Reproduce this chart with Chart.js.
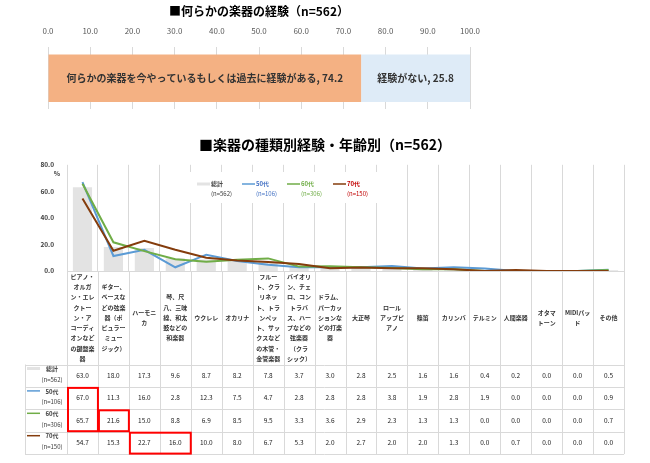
<!DOCTYPE html>
<html lang="ja">
<head>
<meta charset="utf-8">
<script src="https://cdn.jsdelivr.net/npm/chart.js@4.4.1/dist/chart.umd.min.js"></script>
<style>
  html, body { margin: 0; padding: 0; background: #fff; }
  body { width: 650px; height: 463px; position: relative; overflow: hidden; }
  #topWrap { position: absolute; left: 0; top: 0; width: 650px; height: 112px; }
  #ageWrap { position: absolute; left: 0; top: 118px; width: 650px; height: 345px; }
</style>
</head>
<body>
<div id="topWrap"><canvas id="experienceChart"></canvas></div>
<div id="ageWrap"><canvas id="ageChart"></canvas></div>
<script>
// ---- data ----
const experienceLabels = ['何らかの楽器を今やっているもしくは過去に経験がある', '経験がない'];
const experienceValues = [74.2, 25.8];

const categories = [
  ['ピアノ・', 'オルガ', 'ン・エレ', 'クトー', 'ン・ア', 'コーディ', 'オンなど', 'の鍵盤楽', '器'],
  ['ギター、', 'ベースな', 'どの弦楽', '器（ポ', 'ピュラー', 'ミュー', 'ジック）'],
  ['ハーモニ', 'カ'],
  ['琴、尺', '八、三味', '線、和太', '鼓などの', '和楽器'],
  ['ウクレレ'],
  ['オカリナ'],
  ['フルー', 'ト、クラ', 'リネッ', 'ト、トラ', 'ンペッ', 'ト、サッ', 'クスなど', 'の木管・', '金管楽器'],
  ['バイオリ', 'ン、チェ', 'ロ、コン', 'トラバ', 'ス、ハー', 'プなどの', '弦楽器', '（クラ', 'シック）'],
  ['ドラム、', 'パーカッ', 'ションな', 'どの打楽', '器'],
  ['大正琴'],
  ['ロール', 'アップピ', 'アノ'],
  ['篠笛'],
  ['カリンバ'],
  ['テルミン'],
  ['人間楽器'],
  ['オタマ', 'トーン'],
  ['MIDIパッ', 'ド'],
  ['その他']
];

const seriesNames = ['総計', '50代', '60代', '70代'];
const seriesCounts = ['(n=562)', '(n=106)', '(n=306)', '(n=150)'];
const total = [63.0, 18.0, 17.3, 9.6, 8.7, 8.2, 7.8, 3.7, 3.0, 2.8, 2.5, 1.6, 1.6, 0.4, 0.2, 0.0, 0.0, 0.5];
const age50 = [67.0, 11.3, 16.0, 2.8, 12.3, 7.5, 4.7, 2.8, 2.8, 2.8, 3.8, 1.9, 2.8, 1.9, 0.0, 0.0, 0.0, 0.9];
const age60 = [65.7, 21.6, 15.0, 8.8, 6.9, 8.5, 9.5, 3.3, 3.6, 2.9, 2.3, 1.3, 1.3, 0.0, 0.0, 0.0, 0.0, 0.7];
const age70 = [54.7, 15.3, 22.7, 16.0, 10.0, 8.0, 6.7, 5.3, 2.0, 2.7, 2.0, 2.0, 1.3, 0.0, 0.7, 0.0, 0.0, 0.0];
const yTicks = [0, 20, 40, 60, 80];

// highlighted cells: [first column, last column, first row, last row]
const highlights = [[0, 0, 1, 2], [1, 1, 2, 2], [2, 3, 3, 3]];

const JP = '"Noto Sans CJK JP", "Noto Sans", sans-serif';
const GRID = '#d9d9d9';

// ---- top chart: stacked 100% bar ----
const segmentLabels = {
  id: 'segmentLabels',
  afterDatasetsDraw(chart) {
    const ctx = chart.ctx;
    ctx.save();
    ctx.font = 'bold 10px ' + JP;
    ctx.fillStyle = '#333';
    ctx.textAlign = 'center';
    ctx.textBaseline = 'middle';
    chart.data.datasets.forEach((ds, i) => {
      const bar = chart.getDatasetMeta(i).data[0];
      ctx.fillText(ds.label + ', ' + ds.data[0].toFixed(1), (bar.x + bar.base) / 2, bar.y);
    });
    ctx.restore();
  }
};

new Chart(document.getElementById('experienceChart'), {
  type: 'bar',
  data: {
    labels: [''],
    datasets: experienceLabels.map((label, i) => ({
      label: label,
      data: [experienceValues[i]],
      backgroundColor: ['#f4b183', '#deebf7'][i],
      barPercentage: 0.77,
      categoryPercentage: 1
    }))
  },
  options: {
    indexAxis: 'y',
    responsive: true,
    maintainAspectRatio: false,
    animation: false,
    events: [],
    layout: { padding: { left: 48, right: 180, bottom: 3 } },
    scales: {
      x: {
        position: 'top',
        stacked: true,
        min: 0,
        max: 100,
        afterFit: s => { s.height = 29; },
        ticks: {
          stepSize: 10,
          padding: 12,
          color: '#595959',
          font: { family: JP, size: 8 },
          callback: v => v.toFixed(1)
        },
        grid: { color: GRID, drawTicks: false },
        border: { display: false }
      },
      y: { stacked: true, display: false }
    },
    plugins: {
      legend: { display: false },
      tooltip: { enabled: false },
      title: {
        display: true,
        text: '■何らかの楽器の経験（n=562）',
        color: '#000',
        font: { family: JP, size: 12, weight: 'bold' },
        padding: { top: 4, bottom: 0 }
      }
    }
  },
  plugins: [segmentLabels]
});

// ---- bottom chart: bars + lines with data table ----
const lineColors = ['#e3e3e3', '#5b9bd5', '#70ad47', '#843c0c'];
const textColors = ['#404040', '#4472c4', '#70ad47', '#c00000'];
const seriesData = [total, age50, age60, age70];

const tableLayer = {
  id: 'tableLayer',
  afterDraw(chart) {
    const ctx = chart.ctx;
    const x = chart.scales.x;
    const area = chart.chartArea;
    const step = x.getPixelForValue(1) - x.getPixelForValue(0);
    const edge = i => x.getPixelForValue(i) - step / 2;
    const labelMid = area.bottom + 46.5;
    const rowTop = r => area.bottom + 93.5 + r * 22.4;
    const tableLeft = 25;
    const n = categories.length;

    ctx.save();
    // "%" under the top tick
    ctx.font = 'bold 6.5px ' + JP;
    ctx.fillStyle = '#404040';
    ctx.textAlign = 'center';
    ctx.textBaseline = 'middle';
    ctx.fillText('%', 57, area.top + 9);

    // grid lines continuing through label area and table
    ctx.strokeStyle = GRID;
    ctx.lineWidth = 1;
    ctx.beginPath();
    for (let i = 0; i <= n; i++) {
      const px = Math.round(edge(i)) + 0.5;
      ctx.moveTo(px, area.bottom);
      ctx.lineTo(px, rowTop(4));
    }
    ctx.moveTo(tableLeft + 0.5, rowTop(0));
    ctx.lineTo(tableLeft + 0.5, rowTop(4));
    for (let r = 0; r <= 4; r++) {
      const py = Math.round(rowTop(r)) + 0.5;
      ctx.moveTo(tableLeft, py);
      ctx.lineTo(edge(n), py);
    }
    ctx.stroke();

    // category labels
    ctx.font = 'bold 6px ' + JP;
    ctx.fillStyle = '#333';
    categories.forEach((lines, i) => {
      const cx = x.getPixelForValue(i);
      const lh = 10.25;
      const y0 = labelMid - (lines.length - 1) * lh / 2;
      lines.forEach((t, k) => ctx.fillText(t, cx, y0 + k * lh));
    });

    // row headers and values
    seriesData.forEach((vals, r) => {
      const top = rowTop(r);
      ctx.strokeStyle = lineColors[r];
      ctx.lineWidth = r === 0 ? 3 : 1.5;
      ctx.beginPath();
      ctx.moveTo(27, top + 4);
      ctx.lineTo(40, top + 4);
      ctx.stroke();
      ctx.fillStyle = '#404040';
      ctx.font = 'bold 6px ' + JP;
      ctx.fillText(seriesNames[r], 52, top + 4.5);
      ctx.font = '6px ' + JP;
      ctx.fillText(seriesCounts[r], 52, top + 15);
      ctx.font = '6.5px ' + JP;
      ctx.fillStyle = '#222';
      vals.forEach((v, i) => ctx.fillText(v.toFixed(1), x.getPixelForValue(i), top + 11));
    });

    // red highlight boxes
    ctx.strokeStyle = '#ff0000';
    ctx.lineWidth = 2;
    highlights.forEach(([c0, c1, r0, r1]) => {
      ctx.strokeRect(edge(c0) + 1, rowTop(r0) + 1, edge(c1 + 1) - edge(c0) - 1, rowTop(r1 + 1) - rowTop(r0) - 1.5);
    });

    // legend
    const lx = [197, 242, 287, 333];
    const ly = 184 - 118;
    ctx.fillStyle = '#fff';
    ctx.fillRect(190, ly - 12, 188, 31);
    seriesData.forEach((_, r) => {
      ctx.strokeStyle = lineColors[r];
      ctx.lineWidth = r === 0 ? 3 : 1.5;
      ctx.beginPath();
      ctx.moveTo(lx[r], ly);
      ctx.lineTo(lx[r] + 13, ly);
      ctx.stroke();
      ctx.fillStyle = textColors[r];
      ctx.textAlign = 'left';
      ctx.font = 'bold 6px ' + JP;
      ctx.fillText(seriesNames[r], lx[r] + 14, ly);
      ctx.font = '6px ' + JP;
      ctx.fillText(seriesCounts[r], lx[r] + 14, ly + 10);
    });
    ctx.restore();
  }
};

new Chart(document.getElementById('ageChart'), {
  data: {
    labels: categories.map(c => c.join('')),
    datasets: [
      { type: 'line', label: seriesNames[1], data: age50, borderColor: lineColors[1], borderWidth: 2, pointRadius: 0, order: 3 },
      { type: 'line', label: seriesNames[2], data: age60, borderColor: lineColors[2], borderWidth: 2, pointRadius: 0, order: 2 },
      { type: 'line', label: seriesNames[3], data: age70, borderColor: lineColors[3], borderWidth: 2, pointRadius: 0, order: 1 },
      { type: 'bar', label: seriesNames[0], data: total, backgroundColor: lineColors[0], categoryPercentage: 0.62, barPercentage: 1, order: 4 }
    ]
  },
  options: {
    responsive: true,
    maintainAspectRatio: false,
    animation: false,
    events: [],
    layout: { padding: { left: 26, right: 26, bottom: 192 } },
    scales: {
      x: {
        ticks: { display: false },
        grid: { color: GRID, drawTicks: false, offset: true },
        border: { color: GRID }
      },
      y: {
        min: 0,
        max: 80,
        afterBuildTicks: s => { s.ticks = yTicks.map(v => ({ value: v })); },
        afterFit: s => { s.width = 41; },
        ticks: {
          padding: 5,
          color: '#404040',
          font: { family: JP, size: 6.5, weight: 'bold' },
          callback: v => v.toFixed(1)
        },
        grid: { display: false },
        border: { display: false }
      }
    },
    plugins: {
      legend: { display: false },
      tooltip: { enabled: false },
      title: {
        display: true,
        text: '■楽器の種類別経験・年齢別（n=562）',
        color: '#000',
        font: { family: JP, size: 14, weight: 'bold' },
        padding: { top: 18, bottom: 12 }
      }
    }
  },
  plugins: [tableLayer]
});
</script>
</body>
</html>
